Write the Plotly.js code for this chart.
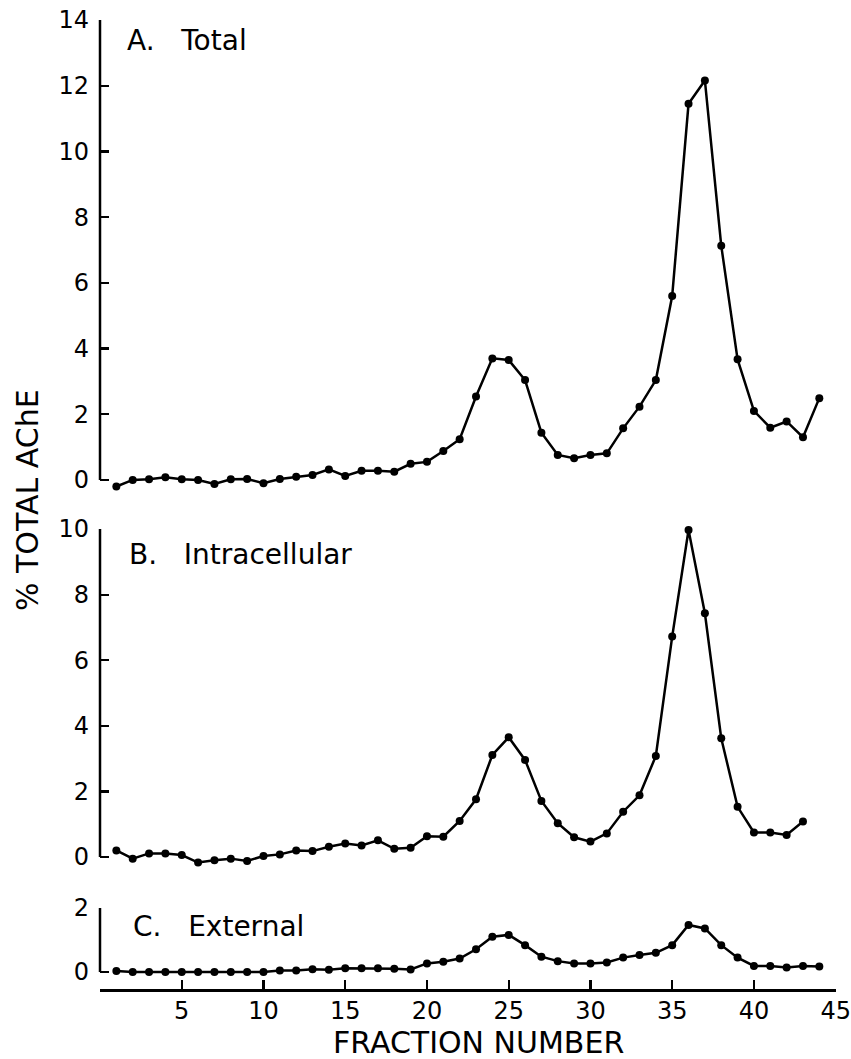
<!DOCTYPE html>
<html>
<head>
<meta charset="utf-8">
<script src="https://cdn.plot.ly/plotly-3.0.1.min.js"></script>
<style>html,body{margin:0;padding:0;background:#fff;}#chart{width:851px;height:1059px;}</style>
</head>
<body>
<div id="chart"></div>
<script>
// Fraction numbers
const fracA = [1,2,3,4,5,6,7,8,9,10,11,12,13,14,15,16,17,18,19,20,21,22,23,24,25,26,27,28,29,30,31,32,33,34,35,36,37,38,39,40,41,42,43,44];
const fracB = [1,2,3,4,5,6,7,8,9,10,11,12,13,14,15,16,17,18,19,20,21,22,23,24,25,26,27,28,29,30,31,32,33,34,35,36,37,38,39,40,41,42,43];
const fracC = [1,2,3,4,5,6,7,8,9,10,11,12,13,14,15,16,17,18,19,20,21,22,23,24,25,26,27,28,29,30,31,32,33,34,35,36,37,38,39,40,41,42,43,44];

// % total AChE
const totalA = [-0.2,0.0,0.02,0.08,0.02,0.0,-0.12,0.02,0.03,-0.1,
                0.03,0.1,0.15,0.32,0.12,0.28,0.28,0.25,0.49,0.55,
                0.88,1.24,2.54,3.70,3.65,3.04,1.44,0.76,0.66,0.76,
                0.81,1.57,2.23,3.04,5.60,11.45,12.16,7.13,3.67,2.10,
                1.59,1.78,1.30,2.49];
const intraB = [0.2,-0.05,0.11,0.11,0.06,-0.17,-0.1,-0.05,-0.12,0.03,
                0.08,0.2,0.18,0.31,0.41,0.35,0.51,0.25,0.28,0.63,
                0.62,1.1,1.76,3.11,3.65,2.96,1.71,1.03,0.6,0.47,
                0.72,1.38,1.88,3.08,6.72,9.97,7.43,3.62,1.53,0.75,
                0.75,0.67,1.08];
const externC = [0.03,0,0,0,0,0,0,0,0,0,
                 0.05,0.05,0.09,0.07,0.12,0.12,0.12,0.1,0.08,0.27,
                 0.32,0.42,0.71,1.1,1.16,0.84,0.48,0.34,0.27,0.27,
                 0.30,0.45,0.53,0.60,0.84,1.47,1.36,0.84,0.45,0.19,
                 0.19,0.14,0.19,0.17];

// Tick values / labels
const yTicksA = [0,2,4,6,8,10,12,14];
const yTicksB = [0,2,4,6,8,10];
const yTicksC = [0,2];
const xTicks = [0,5,10,15,20,25,30,35,40,45];
const xTickText = ['','5','10','15','20','25','30','35','40','45'];

const panelLabels = ['A.\u00a0\u00a0 Total', 'B.\u00a0\u00a0 Intracellular', 'C.\u00a0\u00a0 External'];
const yTitle = '% TOTAL AChE';
const xTitle = 'FRACTION NUMBER';

const FONT = 'DejaVu Sans, sans-serif';
const line = {color:'#000', width:2.5};
const marker = {color:'#000', size:8};

function tr(x, y, xa, ya){
  return {x:x, y:y, xaxis:xa, yaxis:ya, type:'scatter', mode:'lines+markers',
          line:line, marker:marker, cliponaxis:false, hoverinfo:'skip'};
}

const data = [
  tr(fracA, totalA, 'x', 'y'),
  tr(fracB, intraB, 'x2', 'y2'),
  tr(fracC, externC, 'x3', 'y3')
];

function yax(domain, range, ticks){
  return {domain:domain, range:range, tickvals:ticks, ticktext:ticks.map(String),
          ticks:'inside', ticklen:9, tickwidth:2.2, tickcolor:'#000',
          showline:false, zeroline:false, showgrid:false,
          ticklabelstandoff:10,
          tickfont:{family:FONT, size:24, color:'#000'}};
}
function xhidden(anchor){
  return {domain:[0,1], range:[0,45.02], anchor:anchor, visible:false};
}

function axisLine(xref, yref, ticks){
  return {type:'line', xref:xref, yref:yref, x0:0, x1:0,
          y0:ticks[0], y1:ticks[ticks.length-1],
          line:{color:'#000', width:2.5}};
}

const layout = {
  width:851, height:1059,
  margin:{l:100, r:15, t:20, b:70},
  paper_bgcolor:'#fff', plot_bgcolor:'rgba(0,0,0,0)',
  showlegend:false,
  font:{family:FONT, color:'#000'},
  xaxis: xhidden('y'),
  xaxis2: xhidden('y2'),
  xaxis3: {domain:[0,1], range:[0,45.02], anchor:'y3',
           tickvals:xTicks, ticktext:xTickText,
           ticks:'inside', ticklen:9, tickwidth:2.2, tickcolor:'#000',
           showline:true, linecolor:'#000', linewidth:2.5,
           zeroline:false, showgrid:false, ticklabelstandoff:-1,
           automargin:false,
           tickfont:{family:FONT, size:24, color:'#000'}},
  yaxis: yax([0.5084, 1.0], [-0.5, 14], yTicksA),
  yaxis2: yax([0.1193, 0.4747], [-0.5, 10], yTicksB),
  yaxis3: yax([0, 0.0836], [-0.53, 2], yTicksC),
  shapes:[
    axisLine('x domain', 'y', yTicksA),
    axisLine('x2 domain', 'y2', yTicksB),
    axisLine('x3 domain', 'y3', yTicksC)
  ],
  annotations:[
    {text:panelLabels[0], xref:'paper', yref:'paper', x:0.034, y:0.9788, xanchor:'left', yanchor:'middle', showarrow:false, font:{family:FONT, size:28, color:'#000'}},
    {text:panelLabels[1], xref:'paper', yref:'paper', x:0.037, y:0.4489, xanchor:'left', yanchor:'middle', showarrow:false, font:{family:FONT, size:28, color:'#000'}},
    {text:panelLabels[2], xref:'paper', yref:'paper', x:0.042, y:0.065, xanchor:'left', yanchor:'middle', showarrow:false, font:{family:FONT, size:28, color:'#000'}},
    {text:yTitle, xref:'paper', yref:'paper', x:-0.0992, y:0.5046, xanchor:'center', yanchor:'middle', textangle:-90, showarrow:false, font:{family:FONT, size:30, color:'#000'}},
    {text:xTitle, xref:'paper', yref:'paper', x:0.514, y:-0.0557, xanchor:'center', yanchor:'middle', showarrow:false, font:{family:FONT, size:30, color:'#000'}}
  ]
};

Plotly.newPlot('chart', data, layout, {staticPlot:true, displayModeBar:false});
</script>
</body>
</html>
